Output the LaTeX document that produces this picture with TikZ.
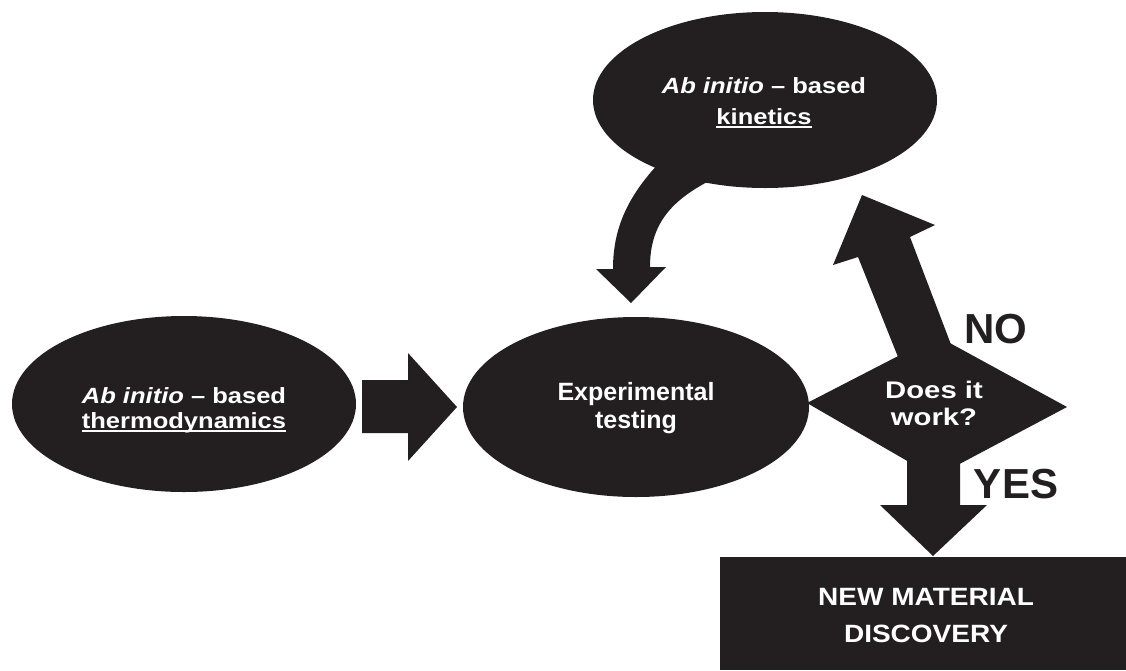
\documentclass[tikz,border=0pt]{standalone}
\usepackage{fontspec}
\setmainfont{Liberation Sans}
\usepackage{graphicx}
\usetikzlibrary{shapes.geometric}
\definecolor{ink}{HTML}{231F20}
\newcommand\ulx[1]{\setbox0=\hbox{#1}\rlap{\copy0}\rule[-3.5pt]{\wd0}{1.8pt}}
\newcommand\blk[4]{{\fontsize{#1}{#2}\selectfont\bfseries\scalebox{#3}[1]{\begin{tabular}{@{}c@{}}#4\end{tabular}}}}
\begin{document}
\begin{tikzpicture}[x=1pt,y=-1pt,
  blob/.style={ellipse, fill=ink, inner sep=0pt, minimum width=344pt, minimum height=176pt},
  lbl/.style={text=white, inner sep=0pt},
  big/.style={text=ink, inner sep=0pt, anchor=base, font=\fontsize{42}{50}\selectfont\bfseries},
  blockarrow/.style={fill=ink}]
\useasboundingbox (0,0) rectangle (1126,670);
% ellipses
\node[blob] (thermo) at (184,404) {};
\node[blob] (kin) at (765,100) {};
\node[blob, minimum width=346pt, minimum height=180pt] (exp) at (636,407) {};
% decision diamond
\coordinate (dec) at (937,405);
\fill[ink] (807,403) -- (937,336) -- (1067,407) -- (935,477) -- cycle;
% discovery box
\node[fill=ink, inner sep=0pt, minimum width=406pt, minimum height=113pt, anchor=north west] (disc) at (720,557) {};
% arrow thermo -> exp
\fill[blockarrow] (362,380) -- (408,380) -- (408,353) -- (457,407) -- (408,461) -- (408,433) -- (362,433) -- cycle;
% curved arrow kin -> exp
\fill[blockarrow] (672,150) .. controls (630,190) and (613,225) .. (613,269)
  -- (596,269) -- (631,303) -- (666,267) -- (650,267)
  .. controls (650,225) and (670,200) .. (715,178) -- (715,150) -- cycle;
% NO arrow dec -> kin
\fill[blockarrow] (900,362) -- (858,257) -- (833,265) -- (862,195) -- (935,225) -- (910,237) -- (955,355) -- cycle;
% YES arrow dec -> disc
\fill[blockarrow] (907,440) -- (907,505) -- (880,505) -- (933,556) -- (987,505) -- (960,505) -- (960,440) -- cycle;
% texts
\node[lbl] (thermoT) at (184,410.5) {\blk{22}{25}{1.16}{\itshape Ab initio\upshape{} -- based\\\ulx{thermodynamics}}};
\node[lbl] (kinT) at (764,102.3) {\blk{22}{31}{1.16}{\itshape Ab initio\upshape{} -- based\\\ulx{kinetics}}};
\node[lbl] (expT) at (636,408.4) {\blk{25}{28}{1.0}{Experimental\\testing}};
\node[lbl] (decT) at (934,406.1) {\blk{24}{27}{1.22}{Does it\\work?}};
\node[lbl] (discT) at (926,616.1) {\blk{25}{37}{1.12}{NEW MATERIAL\\DISCOVERY}};
\node[big] (no) at (995.5,343) {NO};
\node[big] (yes) at (1016,498) {YES};
\end{tikzpicture}
\end{document}
